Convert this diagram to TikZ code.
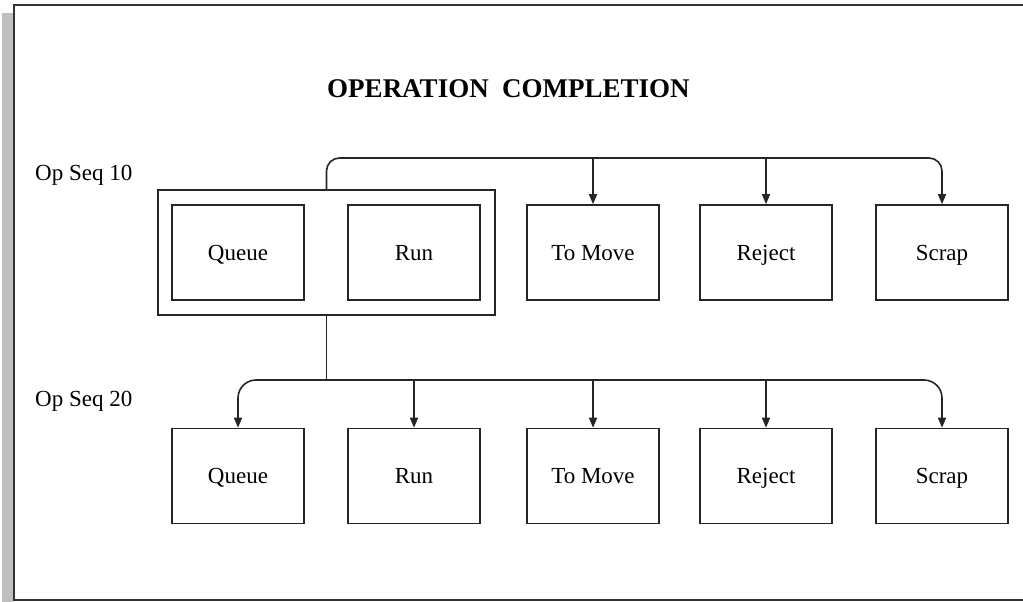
\documentclass[tikz,border=0pt]{standalone}
\usepackage{fontspec}
\setmainfont{Liberation Serif}
\usetikzlibrary{arrows.meta}
\begin{document}
\begin{tikzpicture}[x=1pt,y=-1pt,
  stagebox/.style={draw=black!85,line width=1.6pt,minimum width=132pt,minimum height=95pt,
    inner sep=0pt,font=\fontsize{23}{25}\selectfont,text height=15pt,text depth=0pt},
  groupbox/.style={draw=black!85,line width=1.6pt,minimum width=337pt,minimum height=125pt,inner sep=0pt},
  conn/.style={draw=black!85,line width=1.6pt},
  tip/.style={-{Triangle[width=8pt,length=10pt]}},
  seqlabel/.style={anchor=base west,inner sep=0pt,font=\fontsize{23}{25}\selectfont},
  titlelabel/.style={inner sep=0pt,font=\bfseries\fontsize{27}{29}\selectfont}]
\useasboundingbox (0,0) rectangle (1023,602);
% shadow and frame
\fill[black!25] (2,13) rectangle (13,602);
\draw[black!80,line width=2pt] (1023,5) -- (14,5) -- (14,600) -- (1023,600);
% title and sequence labels
\node[titlelabel] (title) at (508.5,89) {OPERATION\ \ COMPLETION};
\node[seqlabel] (seq10) at (35,180) {Op Seq 10};
\node[seqlabel] (seq20) at (35,406) {Op Seq 20};
% top row
\node[groupbox] (outer) at (326.5,252.5) {};
\node[stagebox] (q1) at (238,252.5) {Queue};
\node[stagebox] (r1) at (414,252.5) {Run};
\node[stagebox] (m1) at (593,252.5) {To Move};
\node[stagebox] (j1) at (766,252.5) {Reject};
\node[stagebox] (s1) at (942,252.5) {Scrap};
% bottom row
\node[stagebox] (q2) at (238,476) {Queue};
\node[stagebox] (r2) at (414,476) {Run};
\node[stagebox] (m2) at (593,476) {To Move};
\node[stagebox] (j2) at (766,476) {Reject};
\node[stagebox] (s2) at (942,476) {Scrap};
% bus coordinates
\coordinate (bus1) at (326.5,158);
\coordinate (bus2) at (326.5,380);
% top connectors
\draw[conn,tip,rounded corners=13pt] (outer.north) |- (bus1 -| s1.north) -- (s1.north);
\draw[conn,tip] (bus1 -| m1.north) -- (m1.north);
\draw[conn,tip] (bus1 -| j1.north) -- (j1.north);
% link to second sequence
\draw[conn] (outer.south) -- (bus2);
% bottom connectors
\draw[conn,{Triangle[width=8pt,length=10pt]}-{Triangle[width=8pt,length=10pt]},rounded corners=18pt] (q2.north) |- (bus2 -| s2.north) -- (s2.north);
\draw[conn,tip] (bus2 -| r2.north) -- (r2.north);
\draw[conn,tip] (bus2 -| m2.north) -- (m2.north);
\draw[conn,tip] (bus2 -| j2.north) -- (j2.north);
\end{tikzpicture}
\end{document}
